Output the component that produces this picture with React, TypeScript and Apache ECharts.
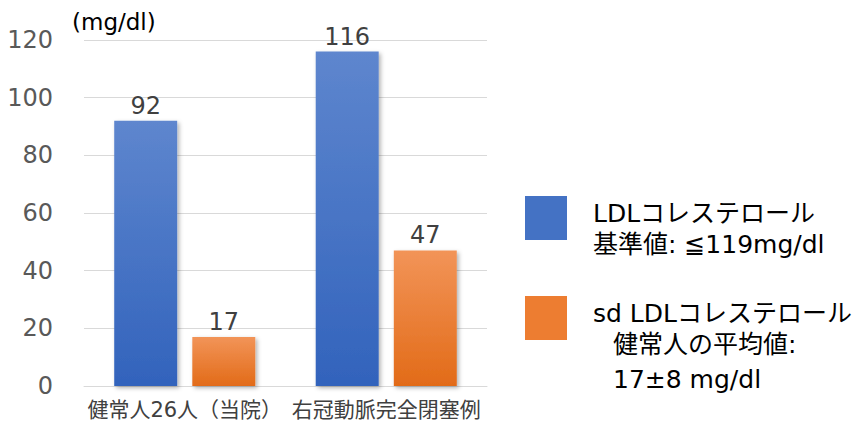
import React, { useEffect, useRef } from "react";
import * as echarts from "echarts";

const categories = ["健常人26人（当院）", "右冠動脈完全閉塞例"];
const ldlValues = [92, 116];
const sdLdlValues = [17, 47];
const yTicks = { min: 0, max: 120, interval: 20 };
const unitLabel = "(mg/dl)";
const legendLdl = ["LDLコレステロール", "基準値: ≦119mg/dl"];
const legendSd = ["sd LDLコレステロール", "健常人の平均値:", "17±8 mg/dl"];

const FONT = "'DejaVu Sans', 'Noto Sans CJK JP', sans-serif";

export default function App() {
  const ref = useRef<HTMLDivElement>(null);
  useEffect(() => {
    if (!ref.current) return;
    const chart = echarts.init(ref.current, null, { renderer: "svg" });
    const blueGrad = new echarts.graphic.LinearGradient(0, 0, 0, 1, [
      { offset: 0, color: "#5E86CE" },
      { offset: 1, color: "#3263BC" },
    ]);
    const orangeGrad = new echarts.graphic.LinearGradient(0, 0, 0, 1, [
      { offset: 0, color: "#F29458" },
      { offset: 1, color: "#E26B18" },
    ]);
    const shadow = {
      shadowBlur: 4,
      shadowColor: "rgba(0,0,0,0.3)",
      shadowOffsetX: 2,
      shadowOffsetY: 2,
    };
    const labelStyle = {
      show: true,
      position: "top" as const,
      distance: 3,
      fontSize: 24,
      color: "#404040",
      fontFamily: FONT,
    };
    const legendText = (text: string, x: number, y: number) => ({
      type: "text",
      x,
      y,
      style: {
        text,
        fontSize: 25,
        fill: "#000000",
        fontFamily: FONT,
        textVerticalAlign: "middle",
      },
    });
    chart.setOption({
      animation: false,
      textStyle: { fontFamily: FONT },
      grid: { left: 84, right: 368, top: 40, bottom: 39 },
      xAxis: {
        type: "category",
        data: categories,
        axisLine: { lineStyle: { color: "#D9D9D9", width: 1 } },
        axisTick: { show: false },
        axisLabel: {
          fontSize: 21,
          color: "#404040",
          margin: 13,
          interval: 0,
          hideOverlap: false,
          fontFamily: FONT,
        },
      },
      yAxis: {
        type: "value",
        min: yTicks.min,
        max: yTicks.max,
        interval: yTicks.interval,
        axisLine: { show: false },
        axisTick: { show: false },
        splitLine: { lineStyle: { color: "#D9D9D9", width: 1 } },
        axisLabel: { fontSize: 24, color: "#595959", margin: 31, fontFamily: FONT },
      },
      series: [
        {
          name: "LDLコレステロール",
          type: "bar",
          data: ldlValues,
          barGap: "24%",
          barCategoryGap: "30%",
          itemStyle: { color: blueGrad, ...shadow },
          label: labelStyle,
        },
        {
          name: "sd LDLコレステロール",
          type: "bar",
          data: sdLdlValues,
          itemStyle: { color: orangeGrad, ...shadow },
          label: labelStyle,
        },
      ],
      graphic: [
        {
          type: "text",
          x: 72,
          y: 22,
          style: {
            text: unitLabel,
            fontSize: 23,
            fill: "#000000",
            fontFamily: FONT,
            textVerticalAlign: "middle",
          },
        },
        {
          type: "rect",
          shape: { x: 525, y: 196, width: 42, height: 44 },
          style: { fill: "#4472C4" },
        },
        legendText(legendLdl[0], 593, 213),
        legendText(legendLdl[1], 593, 244),
        {
          type: "rect",
          shape: { x: 525, y: 296, width: 42, height: 44 },
          style: { fill: "#ED7D31" },
        },
        legendText(legendSd[0], 593, 313),
        legendText(legendSd[1], 613, 344),
        legendText(legendSd[2], 613, 379),
      ],
    });
    return () => chart.dispose();
  }, []);
  return (
    <div
      ref={ref}
      style={{ position: "fixed", left: 0, top: 0, width: 855, height: 425, background: "#fff" }}
    />
  );
}
